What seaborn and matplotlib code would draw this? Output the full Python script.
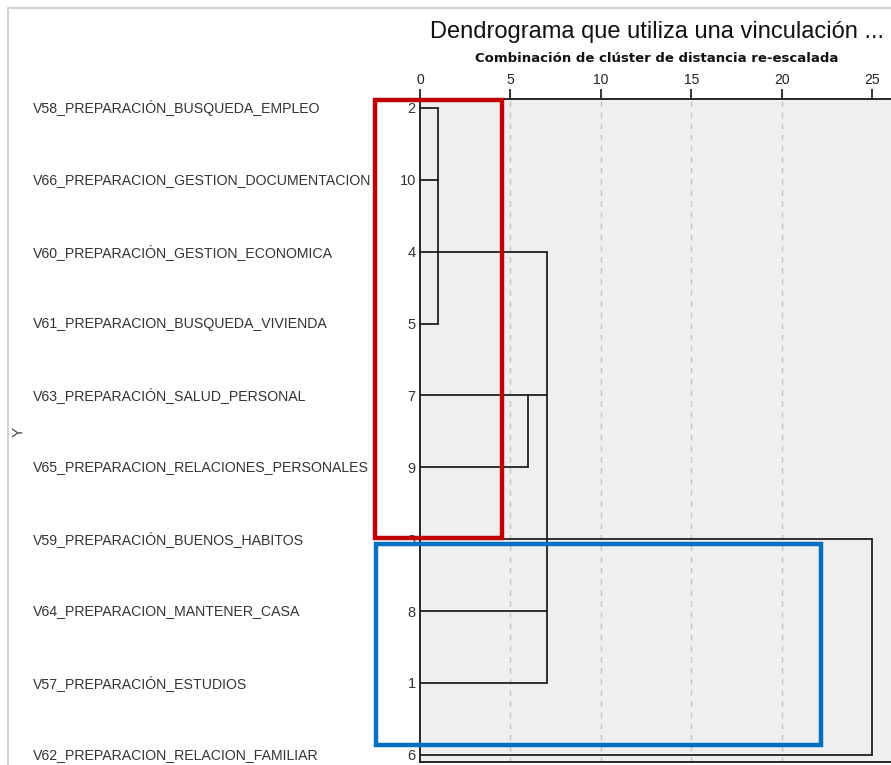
import numpy as np
import pandas as pd
import matplotlib
matplotlib.use("Agg")
import matplotlib.pyplot as plt
import seaborn as sns
from matplotlib.patches import Rectangle
from matplotlib.transforms import blended_transform_factory

# Leaves, top to bottom, as ordered in the dendrogram
var_labels = [
    "V58_PREPARACIÓN_BUSQUEDA_EMPLEO",
    "V66_PREPARACION_GESTION_DOCUMENTACION",
    "V60_PREPARACIÓN_GESTION_ECONOMICA",
    "V61_PREPARACION_BUSQUEDA_VIVIENDA",
    "V63_PREPARACIÓN_SALUD_PERSONAL",
    "V65_PREPARACION_RELACIONES_PERSONALES",
    "V59_PREPARACIÓN_BUENOS_HABITOS",
    "V64_PREPARACION_MANTENER_CASA",
    "V57_PREPARACIÓN_ESTUDIOS",
    "V62_PREPARACION_RELACION_FAMILIAR",
]
leaf_ids = [2, 10, 4, 5, 7, 9, 3, 8, 1, 6]

# merge steps: rows joined, rescaled distance, row that carries the new cluster
merge_rows = [[0, 1, 2, 3], [4, 5], [2, 4, 6, 7, 8], [6, 9]]
merge_dist = [1.0, 6.0, 7.0, 25.0]
merge_keep = [2, 4, 6, None]

# build segment table
segs = []
cur_x = [0.0] * len(leaf_ids)
sid = 0
for rows, d, keep in zip(merge_rows, merge_dist, merge_keep):
    for r in rows:
        segs += [(sid, cur_x[r], r), (sid, d, r)]
        sid += 1
    segs += [(sid, d, min(rows)), (sid, d, max(rows))]
    sid += 1
    if keep is not None:
        cur_x[keep] = d
seg_df = pd.DataFrame(segs, columns=["seg", "x", "y"])

sns.set_style("white")
plt.rcParams["font.family"] = ["Liberation Sans", "DejaVu Sans"]

fig = plt.figure(figsize=(8.91, 7.65), dpi=100)
ax = fig.add_axes([420 / 891, 3 / 765, 471 / 891, 663 / 765])
ax.set_facecolor("#efefef")

sns.lineplot(data=seg_df, x="x", y="y", units="seg", estimator=None, sort=False,
             color="#202020", linewidth=1.3, ax=ax)

ax.set_xlim(0, 26.05)
ax.set_ylim(9.1, -0.125)

# grid
for g in [5, 10, 15, 20]:
    ax.axvline(g, color="#c4c4c4", linestyle=(0, (4, 4)), linewidth=1, zorder=0)

ax.xaxis.tick_top()
ax.set_xticks([0, 5, 10, 15, 20, 25])
ax.tick_params(axis="x", direction="out", length=7, width=1.3, color="#262626",
               labelsize=10, labelcolor="#222222", pad=2)
ax.set_xlabel("")
ax.set_ylabel("")
ax.set_yticks(range(len(leaf_ids)))
ax.set_yticklabels([str(i) for i in leaf_ids])
ax.tick_params(axis="y", length=0, labelsize=10.5, labelcolor="#333333", pad=3)

for side in ["top", "left", "bottom"]:
    ax.spines[side].set_color("#262626")
    ax.spines[side].set_linewidth(1.4)
ax.spines["right"].set_visible(False)

# variable names on the left
tr = blended_transform_factory(fig.transFigure, ax.transData)
for i, lab in enumerate(var_labels):
    ax.text(33 / 891, i, lab, transform=tr, ha="left", va="center",
            fontsize=10.15, color="#333333", clip_on=False)

fig.text(19 / 891, 1 - 432 / 765, "Y", rotation=90, ha="center", va="center",
         fontsize=11, color="#444444")

fig.text(657 / 891, 1 - 32 / 765, "Dendrograma que utiliza una vinculación ...",
         ha="center", va="center", fontsize=17, color="#111111")
fig.text(657 / 891, 1 - 58 / 765, "Combinación de clúster de distancia re-escalada",
         ha="center", va="center", fontsize=9.5, fontweight="bold", color="#111111",
         family="DejaVu Sans")

# outer frame
fig.patches.append(Rectangle((8 / 891, -0.1), 1.2, 1 - 8 / 765 + 0.1,
                             transform=fig.transFigure, fill=False,
                             edgecolor="#c8c8c8", linewidth=1.2))

# highlight boxes
ax.add_patch(Rectangle((-2.5, -0.11), 7.04, 6.09, fill=False, edgecolor="#c00000",
                       linewidth=3.2, clip_on=False, zorder=5))
ax.add_patch(Rectangle((-2.43, 6.06), 24.6, 2.81, fill=False, edgecolor="#0070c0",
                       linewidth=3.2, clip_on=False, zorder=5))

fig.savefig("out.png", dpi=100)
